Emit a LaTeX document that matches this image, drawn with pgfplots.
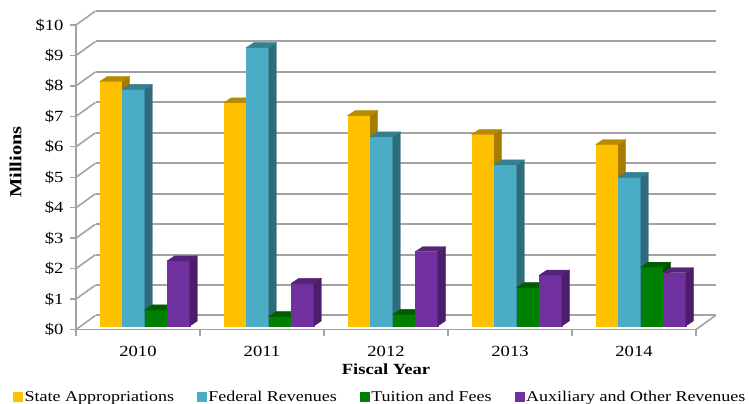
\documentclass[border=0pt]{standalone}
\usepackage{pgfplots}
\usepackage{pgfplotstable}
\pgfplotsset{compat=1.18}
\usepackage{fontspec}
\setmainfont{Liberation Serif}[FakeStretch=1.2]
\definecolor{stateF}{HTML}{FFC000}
\definecolor{stateS}{HTML}{A67C00}
\definecolor{stateT}{HTML}{B88A00}
\definecolor{fedF}{HTML}{4BACC6}
\definecolor{fedS}{HTML}{2E6C7C}
\definecolor{fedT}{HTML}{33808F}
\definecolor{tuiF}{HTML}{008000}
\definecolor{tuiS}{HTML}{004F00}
\definecolor{tuiT}{HTML}{005E00}
\definecolor{auxF}{HTML}{7030A0}
\definecolor{auxS}{HTML}{4A1E6A}
\definecolor{auxT}{HTML}{55247A}
\definecolor{gridc}{HTML}{A3A3A3}
\pgfdeclareplotmark{none3d}{}
\pgfplotstableread{
year state fed tui aux
2010 8.03 7.77 0.53 2.14
2011 7.33 9.14 0.31 1.40
2012 6.91 6.21 0.38 2.44
2013 6.29 5.29 1.26 1.67
2014 5.96 4.88 1.93 1.75
}\data
\pgfplotsset{
  bar3d/.style n args={3}{
    scatter, only marks, mark=none3d,
    visualization depends on={rawy \as \barv},
    scatter/@pre marker code/.code={%
      \pgfmathsetmacro\barh{\barv*30.45}%
      \fill[#1] (-11.25bp,3.5bp) rectangle (11.25bp,3.5bp-\barh bp);%
      \fill[#2] (11.25bp,3.5bp) -- (18.75bp,8.5bp) -- (18.75bp,8.5bp-\barh bp) -- (11.25bp,3.5bp-\barh bp) -- cycle;%
      \fill[#3] (-11.25bp,3.5bp) -- (-3.75bp,8.5bp) -- (18.75bp,8.5bp) -- (11.25bp,3.5bp) -- cycle;%
    },
    scatter/@post marker code/.code={},
    legend image code/.code={\fill[#1] (0bp,-4.5bp) rectangle (9bp,4.5bp);},
  }
}
\begin{document}
\begin{tikzpicture}[font=\fontsize{15.5bp}{18bp}\selectfont]
\path[use as bounding box] (0,0) rectangle (749bp,404bp);
\begin{axis}[
  at={(76bp,74.5bp)}, anchor=south west,
  scale only axis, width=620bp, height=304.5bp,
  xmin=-0.5, xmax=4.5, ymin=0, ymax=10,
  clip=false,
  axis x line*=bottom, axis y line*=left,
  axis line style={-, gridc, line width=1.8bp},
  tick align=outside, major tick length=6bp,
  tick style={gridc, line width=1.3bp},
  xtick={-0.5,0.5,...,4.5}, xticklabels={},
  extra x ticks={0,1,2,3,4},
  extra x tick labels={2010,2011,2012,2013,2014},
  extra x tick style={major tick length=0pt},
  ytick={0,1,...,10},
  yticklabels={\$0,\$1,\$2,\$3,\$4,\$5,\$6,\$7,\$8,\$9,\$10},
  yticklabel style={xshift=-3bp},
  xticklabel style={yshift=-13bp},
  ymajorgrids,
  major grid style={gridc, line width=2bp, xshift=19.5bp, yshift=14bp},
  xlabel={\textbf{Fiscal Year}},
  xlabel style={at={(axis description cs:0.5,0)}, anchor=north, yshift=-31bp},
  ylabel={\fontsize{17bp}{20bp}\selectfont\textbf{Millions}},
  ylabel style={at={(axis description cs:0,0.55)}, anchor=south, xshift=0bp, yshift=51bp},
  legend style={draw=none, fill=none, at={(axis description cs:-0.1016,-0.2217)}, anchor=west,
    font=\fontsize{15bp}{18bp}\selectfont,
    /tikz/every even column/.append style={column sep=21bp}, inner sep=0pt},
  legend columns=4, legend cell align=left,
]
\pgfplotsinvokeforeach{0,1,...,10}{
  \draw[gridc, line width=1.6bp] (axis cs:-0.5,#1) -- ++(19.5bp,14bp);
}
\draw[gridc, line width=1.6bp] (axis cs:4.5,0) -- ++(19.5bp,14bp);
\addplot[bar3d={stateF}{stateS}{stateT}] table[x expr=\coordindex-0.218, y=state] {\data};
\addlegendentry{State Appropriations}
\addplot[bar3d={fedF}{fedS}{fedT}] table[x expr=\coordindex-0.036, y=fed] {\data};
\addlegendentry{Federal Revenues}
\addplot[bar3d={tuiF}{tuiS}{tuiT}] table[x expr=\coordindex+0.145, y=tui] {\data};
\addlegendentry{Tuition and Fees}
\addplot[bar3d={auxF}{auxS}{auxT}] table[x expr=\coordindex+0.327, y=aux] {\data};
\addlegendentry{Auxiliary and Other Revenues}
\end{axis}
\end{tikzpicture}
\end{document}
